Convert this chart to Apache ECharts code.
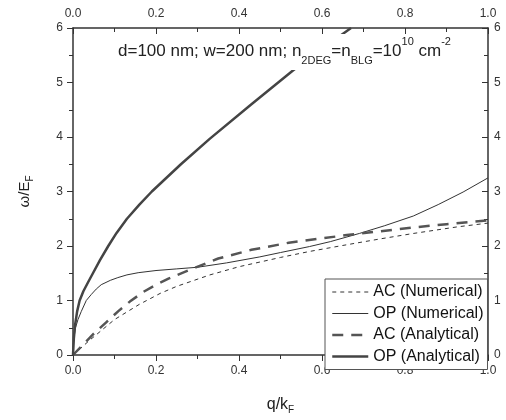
<!DOCTYPE html>
<html>
<head>
<meta charset="utf-8">
<script src="https://cdn.jsdelivr.net/npm/echarts@6/dist/echarts.min.js"></script>
<style>html,body{margin:0;padding:0;background:#fff}#c{width:506px;height:420px}</style>
</head>
<body>
<div id="c"></div>
<script>
// ---- data ----
var seriesNames = ['AC (Numerical)', 'OP (Numerical)', 'AC (Analytical)', 'OP (Analytical)'];

var qACNum = [0, 0.04, 0.07, 0.1, 0.16, 0.21, 0.25, 0.33, 0.4, 0.5, 0.57, 0.65, 0.74, 0.82, 0.925, 1.0];
var wACNum = [0, 0.27, 0.46, 0.65, 0.93, 1.13, 1.26, 1.47, 1.62, 1.79, 1.9, 2.01, 2.13, 2.23, 2.35, 2.42];

var qOPNum = [0, 0.002, 0.006, 0.012, 0.02, 0.032, 0.044, 0.056, 0.068, 0.09, 0.108, 0.13, 0.157, 0.2, 0.25, 0.3, 0.37, 0.45, 0.5, 0.57, 0.62, 0.69, 0.75, 0.82, 0.88, 0.94, 1.0];
var wOPNum = [0, 0.3, 0.5, 0.65, 0.8, 1.0, 1.11, 1.21, 1.29, 1.37, 1.42, 1.47, 1.51, 1.55, 1.58, 1.61, 1.69, 1.8, 1.88, 1.99, 2.08, 2.23, 2.37, 2.55, 2.76, 2.99, 3.25];

var qACAna = [0, 0.05, 0.08, 0.11, 0.137, 0.17, 0.2, 0.23, 0.29, 0.35, 0.43, 0.52, 0.6, 0.66, 0.74, 0.82, 0.9, 1.0];
var wACAna = [0, 0.39, 0.6, 0.81, 0.98, 1.16, 1.29, 1.4, 1.59, 1.77, 1.93, 2.06, 2.14, 2.2, 2.27, 2.34, 2.4, 2.47];

var qOPAna = [0, 0.002, 0.005, 0.01, 0.016, 0.025, 0.036, 0.048, 0.065, 0.085, 0.105, 0.13, 0.16, 0.19, 0.26, 0.33, 0.43, 0.53, 0.6, 0.67];
var wOPAna = [0, 0.3, 0.55, 0.8, 1.0, 1.17, 1.33, 1.5, 1.74, 2.0, 2.24, 2.5, 2.76, 3.0, 3.5, 3.97, 4.6, 5.22, 5.62, 6.0];

var xTicks = [0, 0.2, 0.4, 0.6, 0.8, 1.0];
var yTicks = [0, 1, 2, 3, 4, 5, 6];

function zip(xs, ys) { return xs.map(function (x, i) { return [x, ys[i]]; }); }

var FONT = 'Liberation Sans';
var AX = '#333';

function xAxisCfg(pos, inside) {
  return {
    type: 'value', position: pos, min: xTicks[0], max: xTicks[xTicks.length - 1], interval: 0.2,
    axisLine: { show: true, onZero: false, lineStyle: { color: AX, width: 1.5 } },
    axisTick: { show: true, inside: inside, length: 6, lineStyle: { color: AX, width: 1 } },
    minorTick: { show: true, splitNumber: 2, length: 4, lineStyle: { color: AX, width: 1 } },
    splitLine: { show: false },
    axisLabel: { show: true, margin: pos === 'top' ? 8 : 10, color: '#333', fontFamily: FONT, fontSize: 12,
      formatter: function (v) { return v.toFixed(1); } }
  };
}
function yAxisCfg(pos, inside) {
  return {
    type: 'value', position: pos, min: yTicks[0], max: yTicks[yTicks.length - 1], interval: 1,
    axisLine: { show: true, onZero: false, lineStyle: { color: AX, width: 1.5 } },
    axisTick: { show: true, inside: inside, length: 6, lineStyle: { color: AX, width: 1 } },
    minorTick: { show: true, splitNumber: 2, length: 4, lineStyle: { color: AX, width: 1 } },
    splitLine: { show: false },
    axisLabel: { show: true, margin: pos === 'right' ? 6 : 10, color: '#333', fontFamily: FONT, fontSize: 12 }
  };
}

var xBottom = xAxisCfg('bottom', false);
xBottom.name = 'q/k{sub|F}';
xBottom.nameLocation = 'middle';
xBottom.nameGap = 40;
xBottom.nameTextStyle = { fontFamily: FONT, fontSize: 16, color: '#222',
  rich: { sub: { fontSize: 10, fontFamily: FONT, color: '#222', padding: [10, 0, 0, 0] } } };
var xTop = xAxisCfg('top', true);

var yLeft = yAxisCfg('left', false);
yLeft.name = 'ω/E{sub|F}';
yLeft.nameLocation = 'middle';
yLeft.nameGap = 38;
yLeft.nameTextStyle = { fontFamily: FONT, fontSize: 15, color: '#222',
  rich: { sub: { fontSize: 10, fontFamily: FONT, color: '#222', padding: [10, 0, 0, 0] } } };
var yRight = yAxisCfg('right', true);

var styles = [
  { color: '#333', width: 1, type: [4, 4] },
  { color: '#333', width: 1, type: 'solid' },
  { color: '#555', width: 2.5, type: [11, 8] },
  { color: '#444', width: 2.5, type: 'solid' }
];

function lineSeries(i, xs, ys) {
  return {
    name: seriesNames[i], type: 'line', xAxisIndex: 0, yAxisIndex: 0, data: zip(xs, ys),
    smooth: false, symbol: 'none',
    lineStyle: styles[i], itemStyle: { color: styles[i].color }
  };
}

var chart = echarts.init(document.getElementById('c'), null, { renderer: 'canvas' });
chart.setOption({
  animation: false,
  backgroundColor: '#fff',
  grid: { left: 73, right: 18, top: 28, bottom: 58, containLabel: false },
  title: {
    text: 'd=100 nm; w=200 nm; n{sub|2DEG}=n{sub|BLG}=10{sup|10} cm{sup|-2}',
    left: 113, top: 34,
    backgroundColor: '#fff',
    padding: [2, 5, 4, 5],
    z: 10,
    textStyle: {
      fontFamily: FONT, fontSize: 17, fontWeight: 'normal', color: '#222', lineHeight: 30,
      rich: {
        sub: { fontFamily: FONT, fontSize: 11, color: '#222', verticalAlign: 'bottom', lineHeight: 30, padding: [14, 0, 0, 0] },
        sup: { fontFamily: FONT, fontSize: 11, color: '#222', verticalAlign: 'top', lineHeight: 30, padding: [0, 0, 10, 0] }
      }
    }
  },
  legend: {
    orient: 'vertical', left: 325, top: 279,
    data: seriesNames.map(function (n, i) {
      return { name: n, lineStyle: { color: styles[i].color, width: styles[i].width, type: styles[i].type }, itemStyle: { opacity: 0 } };
    }),
    itemWidth: 36, itemHeight: 14, itemGap: 5.5,
    padding: [5, 4, 5, 6],
    borderColor: '#555', borderWidth: 1, backgroundColor: '#fff',
    itemStyle: { opacity: 0 },
    textStyle: { fontFamily: FONT, fontSize: 16, color: '#111' },
    z: 10
  },
  xAxis: [xBottom, xTop],
  yAxis: [yLeft, yRight],
  series: [
    lineSeries(0, qACNum, wACNum),
    lineSeries(1, qOPNum, wOPNum),
    lineSeries(2, qACAna, wACAna),
    lineSeries(3, qOPAna, wOPAna)
  ]
});
</script>
</body>
</html>
